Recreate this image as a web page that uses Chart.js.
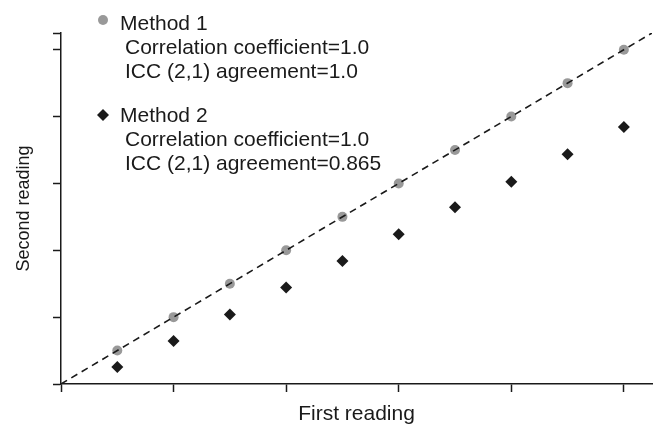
<!DOCTYPE html>
<html><head><meta charset="utf-8">
<script src="https://cdn.jsdelivr.net/npm/chart.js@4"></script>
<style>html,body{margin:0;padding:0;background:#fff}#wrap{width:653px;height:425px;position:relative}</style>
</head><body><div id="wrap"><canvas id="c" width="653" height="425"></canvas></div>
<script>
const firstReading = [1, 2, 3, 4, 5, 6, 7, 8, 9, 10];
const method1Second = [1, 2, 3, 4, 5, 6, 7, 8, 9, 10];
const method2Second = [0.51, 1.29, 2.08, 2.89, 3.68, 4.48, 5.29, 6.05, 6.87, 7.69];
const identityLine = [0, 10.5];
const xTickValues = [0, 2, 4, 6, 8, 10];
const yTickValues = [0, 2, 4, 6, 8, 10, 10.5];
const legendMethod1 = ['Method 1', 'Correlation coefficient=1.0', 'ICC (2,1) agreement=1.0'];
const legendMethod2 = ['Method 2', 'Correlation coefficient=1.0', 'ICC (2,1) agreement=0.865'];
const xTitle = 'First reading';
const yTitle = 'Second reading';

const INK = '#1a1a1a';
const GREY = '#999999';
const FONT = '"Liberation Sans", Arial, Helvetica, sans-serif';

const legendPlugin = {
  id: 'legendText',
  afterDraw(chart) {
    const ctx = chart.ctx;
    ctx.save();
    ctx.fillStyle = GREY;
    Chart.helpers.drawPoint(ctx, {pointStyle: 'circle', radius: 5, borderWidth: 0, rotation: 0}, 103, 20);
    ctx.fillStyle = INK;
    Chart.helpers.drawPoint(ctx, {pointStyle: 'rectRot', radius: 6, borderWidth: 0, rotation: 0}, 103, 115);
    ctx.fillStyle = INK;
    ctx.font = '21px ' + FONT;
    ctx.textBaseline = 'alphabetic';
    ctx.textAlign = 'left';
    const blocks = [[legendMethod1, 30], [legendMethod2, 122]];
    blocks.forEach(([lines, base]) => {
      lines.forEach((t, i) => {
        ctx.fillText(t, i === 0 ? 120 : 125, base + i * 24);
      });
    });
    ctx.restore();
  }
};

new Chart(document.getElementById('c'), {
  type: 'scatter',
  data: {
    datasets: [
      {
        type: 'line',
        label: 'identity',
        data: identityLine.map(v => ({x: v, y: v})),
        borderColor: INK,
        borderWidth: 1.6,
        borderDash: [7, 5],
        pointRadius: 0,
        fill: false,
        order: 0
      },
      {
        label: 'Method 1',
        data: firstReading.map((x, i) => ({x: x, y: method1Second[i]})),
        pointStyle: 'circle',
        pointRadius: 5,
        backgroundColor: GREY,
        borderColor: GREY,
        borderWidth: 0,
        order: 1
      },
      {
        label: 'Method 2',
        data: firstReading.map((x, i) => ({x: x, y: method2Second[i]})),
        pointStyle: 'rectRot',
        pointRadius: 6,
        backgroundColor: INK,
        borderColor: INK,
        borderWidth: 0,
        order: 2
      }
    ]
  },
  options: {
    responsive: false,
    animation: false,
    devicePixelRatio: 1,
    layout: {autoPadding: false, padding: {top: 33, right: 1, left: 0, bottom: 0}},
    plugins: {legend: {display: false}, tooltip: {enabled: false}},
    scales: {
      x: {
        type: 'linear',
        min: 0, max: 10.5,
        afterBuildTicks: s => { s.ticks = xTickValues.map(v => ({value: v})); },
        ticks: {display: false},
        grid: {drawOnChartArea: false, drawTicks: true, tickLength: 8, tickWidth: 1.5, tickColor: INK},
        border: {display: true, color: INK, width: 1.5},
        title: {display: true, text: xTitle, color: INK, font: {size: 21, family: FONT, lineHeight: 1}, padding: {top: 12, bottom: 0}}
      },
      y: {
        type: 'linear',
        min: 0, max: 10.5,
        afterBuildTicks: s => { s.ticks = yTickValues.map(v => ({value: v})); },
        ticks: {display: false},
        grid: {drawOnChartArea: false, drawTicks: true, tickLength: 8, tickWidth: 1.5, tickColor: INK},
        border: {display: true, color: INK, width: 1.5},
        title: {display: true, text: yTitle, color: INK, font: {size: 18, family: FONT, lineHeight: 1}, padding: {top: 15, bottom: 20}}
      }
    }
  },
  plugins: [legendPlugin]
});
</script>
</body></html>
